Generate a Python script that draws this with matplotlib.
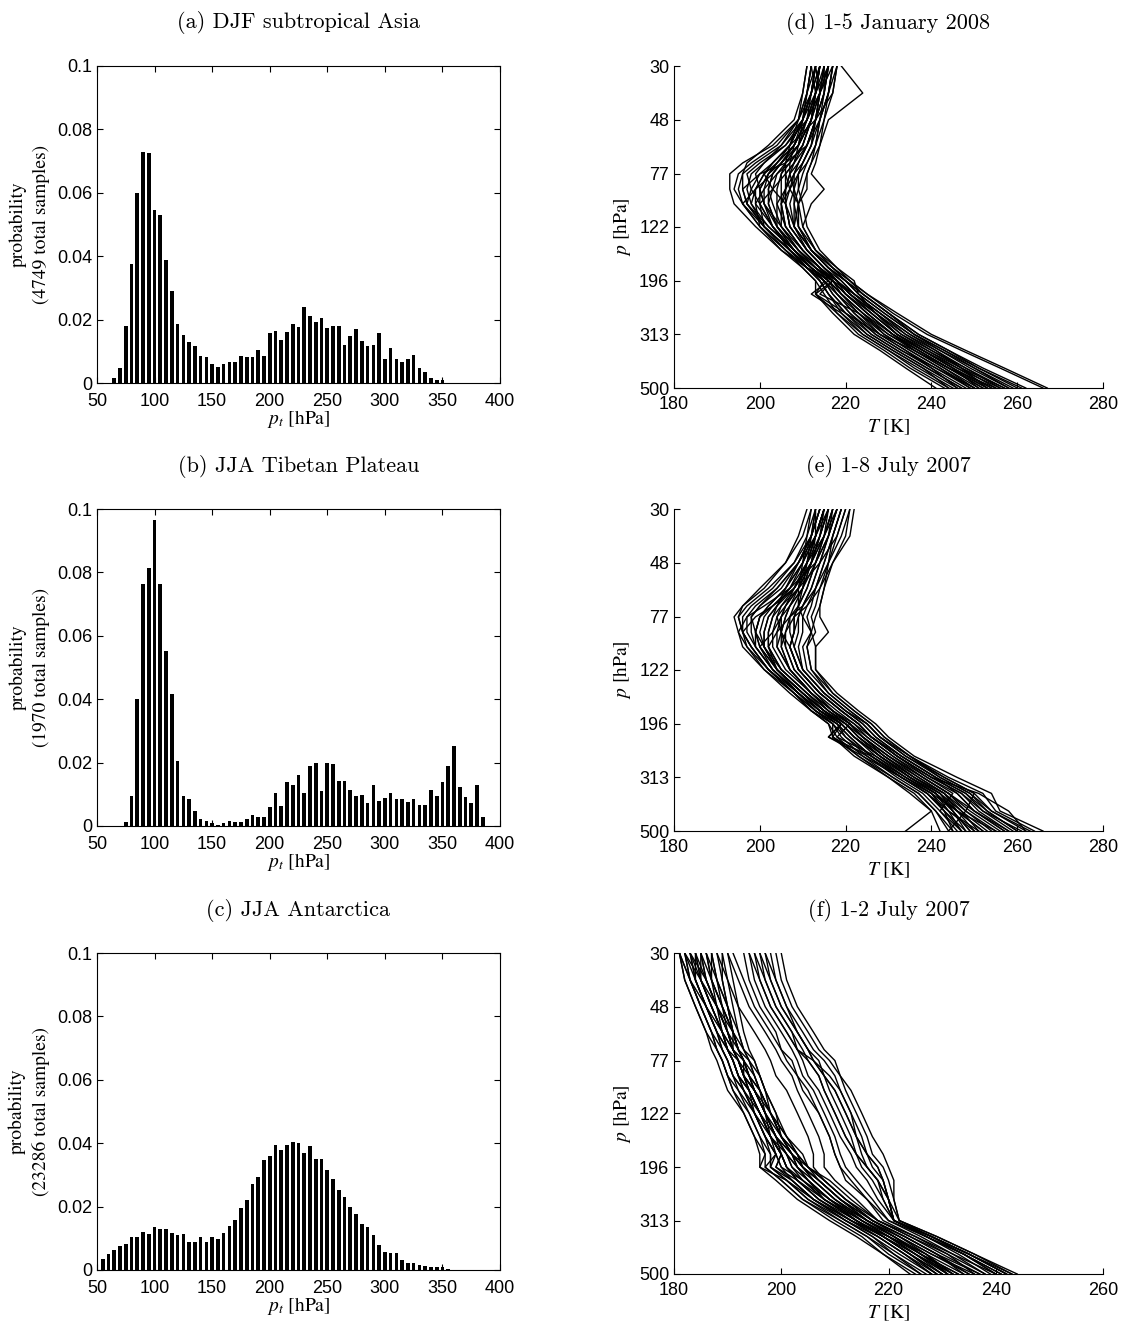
import numpy as np
import matplotlib
matplotlib.use('Agg')
from matplotlib import pyplot as plt
from matplotlib.ticker import NullLocator

plt.rcParams['mathtext.fontset'] = 'stix'
plt.rcParams['font.family'] = ['Liberation Sans', 'DejaVu Sans']

# ---- histogram data (bin centres every 5 hPa) ----
pt_a = list(range(65, 355, 5))
prob_a = [0.0016, 0.0048, 0.018, 0.0376, 0.060, 0.073, 0.0727, 0.0547, 0.053, 0.0387,
          0.029, 0.0187, 0.015, 0.0129, 0.0116, 0.0086, 0.0082, 0.0059, 0.005, 0.0059,
          0.0066, 0.0067, 0.0086, 0.0082, 0.0082, 0.0103, 0.0086, 0.0158, 0.0165, 0.0135,
          0.0162, 0.0185, 0.0177, 0.024, 0.0212, 0.0193, 0.0206, 0.0173, 0.018, 0.018,
          0.012, 0.0148, 0.0171, 0.0132, 0.0116, 0.012, 0.0158, 0.0076, 0.0109, 0.0076,
          0.0066, 0.0076, 0.0089, 0.0048, 0.0036, 0.0015, 0.0008, 0.001]

pt_b = list(range(75, 390, 5))
prob_b = [0.0013, 0.0095, 0.040, 0.0764, 0.0813, 0.0964, 0.0764, 0.0552, 0.0415, 0.0206,
          0.0095, 0.0085, 0.0048, 0.0023, 0.0017, 0.0008, 0.0002, 0.0008, 0.0017, 0.0013,
          0.0013, 0.0022, 0.0034, 0.0027, 0.0027, 0.0059, 0.0105, 0.0064, 0.0139, 0.013,
          0.016, 0.0105, 0.019, 0.020, 0.011, 0.020, 0.0196, 0.0143, 0.0143, 0.0114,
          0.0095, 0.0099, 0.0074, 0.013, 0.0079, 0.0088, 0.0105, 0.0084, 0.0084, 0.0075,
          0.0084, 0.0065, 0.0065, 0.0114, 0.0095, 0.0139, 0.019, 0.0253, 0.0124, 0.009,
          0.0074, 0.013, 0.0027]

pt_c = list(range(55, 360, 5))
prob_c = [0.0034, 0.005, 0.0063, 0.0076, 0.0082, 0.0103, 0.0103, 0.0121, 0.0113, 0.0137,
          0.0129, 0.0128, 0.0116, 0.011, 0.0112, 0.0087, 0.0089, 0.0105, 0.0088, 0.0105,
          0.0098, 0.0116, 0.0139, 0.0158, 0.0197, 0.022, 0.027, 0.0292, 0.0346, 0.036,
          0.0394, 0.0377, 0.0393, 0.0404, 0.0402, 0.037, 0.039, 0.035, 0.0349, 0.0316,
          0.0286, 0.0251, 0.0229, 0.020, 0.0178, 0.0145, 0.0137, 0.011, 0.0078, 0.0058,
          0.0053, 0.0053, 0.0032, 0.0023, 0.0023, 0.0016, 0.0013, 0.0009, 0.0008, 0.0008,
          0.0003]

hist_titles = ['(a) DJF subtropical Asia', '(b) JJA Tibetan Plateau', '(c) JJA Antarctica']
hist_samples = [4749, 1970, 23286]

# ---- temperature profiles, T [K] at these pressure levels [hPa] ----
p_lev = [30, 38, 48, 60, 70, 77, 88, 100, 122, 150, 175, 196, 220, 260, 313, 360, 420, 500]

T_d = [
    [212, 211, 209, 204, 198, 195, 194, 196, 201, 207, 211, 214, 216, 219, 224, 230, 237, 245],
    [213, 212, 210, 206, 201, 198, 197, 198, 202, 208, 212, 215, 217, 221, 226, 232, 239, 247],
    [214, 213, 211, 208, 204, 202, 201, 201, 204, 209, 213, 216, 218, 222, 228, 234, 241, 249],
    [215, 214, 212, 210, 207, 205, 204, 204, 206, 210, 214, 217, 219, 224, 230, 236, 243, 251],
    [216, 215, 213, 211, 209, 208, 207, 206, 207, 211, 215, 218, 221, 226, 232, 238, 245, 253],
    [217, 216, 214, 213, 212, 211, 211, 209, 209, 212, 216, 219, 222, 228, 234, 241, 248, 256],
    [218, 217, 215, 214, 213, 212, 215, 212, 210, 213, 217, 220, 224, 230, 237, 244, 251, 260],
    [213, 212, 210, 205, 199, 196, 195, 196, 200, 206, 210, 213, 213, 217, 222, 228, 234, 241],
    [214, 212, 210, 207, 203, 201, 199, 199, 203, 208, 212, 216, 219, 223, 229, 235, 242, 250],
    [215, 213, 212, 209, 206, 204, 203, 202, 204, 209, 213, 217, 220, 225, 231, 237, 244, 252],
    [216, 214, 213, 211, 208, 207, 206, 205, 206, 210, 214, 218, 221, 227, 233, 240, 247, 255],
    [219, 224, 216, 214, 212, 211, 210, 209, 208, 212, 216, 220, 223, 229, 236, 243, 250, 258],
    [212, 211, 209, 203, 196, 193, 193, 194, 199, 205, 210, 213, 215, 218, 223, 229, 235, 243],
    [213, 212, 210, 207, 203, 200, 198, 197, 201, 207, 212, 216, 212, 219, 225, 231, 238, 246],
    [214, 213, 211, 209, 206, 205, 205, 205, 206, 210, 214, 217, 220, 225, 231, 237, 244, 253],
    [215, 214, 213, 211, 209, 208, 208, 208, 208, 211, 215, 219, 222, 228, 235, 242, 250, 259],
    [217, 216, 214, 213, 211, 210, 209, 210, 211, 214, 218, 221, 225, 231, 239, 247, 256, 266],
    [212, 211, 210, 207, 204, 202, 200, 200, 203, 208, 212, 215, 213, 218, 224, 230, 236, 244],
    [213, 212, 211, 208, 205, 203, 202, 202, 204, 208, 212, 216, 219, 224, 229, 235, 242, 249],
    [214, 213, 212, 210, 208, 206, 206, 206, 207, 211, 215, 218, 222, 227, 233, 239, 246, 254],
    [216, 215, 213, 212, 210, 209, 208, 207, 208, 212, 216, 220, 224, 230, 237, 244, 252, 262],
    [211, 210, 208, 202, 197, 196, 196, 197, 201, 207, 211, 214, 216, 220, 226, 232, 239, 247],
    [215, 214, 212, 209, 205, 203, 202, 203, 205, 209, 213, 217, 220, 226, 232, 238, 245, 251],
    [216, 215, 213, 211, 209, 207, 206, 206, 207, 211, 215, 218, 221, 227, 234, 240, 248, 257],
    [214, 213, 211, 208, 204, 201, 199, 198, 201, 207, 211, 215, 218, 222, 227, 233, 240, 248],
    [217, 216, 214, 212, 210, 209, 209, 208, 209, 212, 216, 220, 223, 229, 236, 243, 251, 261],
    [216, 214, 211, 206, 200, 197, 198, 200, 203, 207, 212, 216, 219, 224, 231, 238, 245, 254],
    [212, 213, 212, 210, 207, 204, 201, 199, 200, 205, 211, 217, 222, 228, 235, 241, 247, 253],
    [218, 217, 213, 207, 203, 201, 203, 206, 208, 212, 217, 221, 224, 230, 236, 242, 249, 258],
    [213, 211, 210, 209, 208, 206, 203, 200, 201, 206, 211, 215, 217, 221, 227, 233, 241, 250],
    [215, 215, 214, 211, 206, 200, 196, 197, 202, 208, 213, 217, 214, 223, 230, 237, 244, 252],
    [214, 212, 209, 207, 206, 206, 207, 209, 210, 213, 217, 221, 225, 232, 240, 248, 257, 267],
    [217, 214, 211, 208, 205, 203, 199, 196, 200, 206, 211, 214, 216, 220, 225, 231, 238, 244],
    [213, 214, 213, 212, 210, 208, 206, 204, 204, 208, 213, 218, 220, 225, 231, 236, 243, 250],
    [216, 213, 210, 208, 207, 207, 208, 209, 209, 213, 218, 222, 223, 227, 232, 238, 246, 256],
    [211, 210, 209, 205, 201, 199, 200, 201, 203, 207, 211, 215, 218, 223, 228, 234, 240, 246],
    [218, 216, 215, 213, 211, 209, 207, 205, 205, 209, 214, 218, 221, 226, 232, 239, 247, 257],
    [214, 213, 212, 209, 205, 202, 200, 201, 205, 210, 214, 217, 213, 220, 228, 236, 244, 255],
]

T_e = [
    [213, 211, 208, 202, 197, 195, 196, 198, 202, 208, 212, 217, 219, 224, 231, 237, 241, 245],
    [214, 212, 209, 204, 199, 197, 197, 199, 203, 209, 213, 218, 221, 226, 233, 239, 243, 248],
    [215, 213, 210, 206, 202, 200, 199, 200, 204, 210, 214, 219, 222, 227, 234, 240, 244, 250],
    [216, 214, 211, 208, 205, 203, 202, 202, 205, 211, 216, 220, 223, 229, 236, 242, 247, 253],
    [217, 215, 212, 210, 207, 206, 205, 204, 207, 212, 217, 221, 224, 230, 238, 244, 249, 256],
    [218, 216, 213, 211, 209, 208, 208, 207, 209, 214, 219, 223, 226, 232, 240, 247, 252, 259],
    [219, 217, 215, 213, 212, 211, 212, 210, 211, 216, 221, 225, 228, 234, 242, 249, 254, 262],
    [221, 219, 216, 215, 214, 214, 216, 213, 213, 218, 223, 227, 230, 236, 246, 254, 256, 266],
    [212, 210, 206, 200, 196, 194, 195, 197, 201, 207, 212, 216, 217, 222, 230, 236, 240, 242],
    [213, 212, 209, 205, 200, 198, 198, 199, 203, 209, 213, 217, 220, 225, 232, 238, 242, 246],
    [215, 213, 210, 207, 203, 201, 200, 201, 204, 210, 215, 219, 216, 224, 233, 239, 244, 251],
    [216, 214, 212, 209, 206, 204, 203, 203, 206, 212, 216, 221, 224, 230, 237, 243, 248, 254],
    [217, 215, 213, 210, 208, 207, 206, 206, 208, 213, 218, 222, 225, 231, 239, 246, 250, 257],
    [218, 216, 214, 212, 210, 209, 209, 208, 210, 215, 220, 224, 227, 233, 241, 248, 253, 260],
    [222, 221, 217, 215, 214, 213, 212, 211, 212, 217, 222, 226, 229, 235, 244, 252, 255, 264],
    [214, 212, 208, 203, 198, 196, 196, 198, 202, 208, 213, 217, 217, 223, 231, 237, 241, 244],
    [215, 213, 211, 207, 204, 202, 201, 201, 205, 211, 215, 219, 222, 228, 235, 241, 245, 249],
    [216, 214, 212, 209, 206, 205, 204, 204, 207, 212, 217, 221, 224, 229, 237, 243, 246, 252],
    [217, 215, 213, 211, 209, 208, 208, 207, 209, 214, 219, 223, 226, 232, 240, 247, 251, 258],
    [219, 217, 215, 213, 211, 210, 210, 209, 210, 215, 220, 224, 227, 233, 241, 248, 252, 261],
    [220, 218, 216, 214, 213, 212, 213, 211, 212, 216, 221, 225, 228, 235, 243, 250, 254, 263],
    [211, 209, 206, 201, 196, 195, 196, 198, 202, 208, 212, 216, 218, 223, 230, 235, 240, 234],
    [215, 213, 211, 208, 204, 202, 201, 201, 204, 210, 215, 220, 223, 228, 235, 241, 246, 250],
    [216, 215, 212, 210, 207, 206, 205, 205, 207, 212, 217, 221, 225, 231, 238, 244, 248, 255],
    [218, 216, 214, 212, 210, 209, 208, 207, 209, 214, 219, 223, 226, 232, 240, 251, 258, 262],
    [214, 212, 210, 206, 202, 200, 199, 199, 203, 209, 214, 218, 221, 226, 233, 239, 243, 247],
    [216, 213, 209, 204, 200, 198, 199, 201, 204, 209, 214, 219, 222, 228, 235, 241, 245, 249],
    [213, 213, 212, 208, 203, 199, 196, 197, 202, 209, 214, 219, 217, 225, 233, 240, 246, 252],
    [220, 218, 214, 209, 205, 204, 205, 207, 209, 214, 219, 223, 226, 232, 239, 245, 242, 247],
    [214, 212, 211, 210, 209, 207, 204, 202, 204, 210, 215, 220, 224, 230, 238, 244, 250, 257],
    [217, 216, 213, 207, 201, 197, 195, 196, 201, 208, 213, 218, 220, 226, 234, 240, 243, 245],
    [215, 213, 211, 209, 209, 210, 212, 213, 213, 217, 222, 226, 229, 235, 242, 249, 253, 260],
    [218, 215, 211, 208, 206, 205, 203, 200, 203, 209, 214, 219, 222, 228, 236, 243, 247, 251],
    [212, 211, 210, 209, 207, 205, 205, 206, 208, 213, 217, 221, 218, 227, 235, 242, 246, 255],
    [219, 217, 216, 213, 210, 207, 207, 208, 210, 215, 220, 225, 228, 234, 243, 250, 248, 244],
    [213, 212, 209, 206, 204, 203, 202, 202, 205, 211, 216, 220, 223, 229, 236, 242, 245, 248],
    [221, 220, 217, 214, 211, 208, 206, 205, 207, 212, 217, 222, 226, 233, 241, 246, 250, 258],
    [215, 214, 212, 208, 203, 200, 199, 200, 204, 210, 215, 219, 216, 226, 234, 241, 244, 247],
]

T_f = [
    [181, 182, 184, 186, 187, 188, 189, 190, 193, 195, 197, 197, 200, 204, 210, 215, 219, 225],
    [182, 183, 185, 187, 188, 189, 190, 191, 194, 196, 198, 198, 201, 205, 211, 216, 220, 226],
    [183, 184, 186, 188, 189, 190, 191, 193, 195, 197, 199, 200, 202, 206, 212, 217, 221, 227],
    [184, 185, 187, 189, 190, 191, 192, 194, 196, 198, 200, 201, 203, 207, 213, 218, 223, 228],
    [185, 186, 188, 190, 191, 192, 193, 195, 197, 199, 201, 202, 204, 208, 214, 219, 224, 229],
    [186, 187, 189, 191, 192, 193, 194, 195, 197, 200, 202, 203, 205, 209, 215, 220, 225, 230],
    [187, 188, 190, 191, 192, 193, 195, 196, 198, 200, 203, 204, 207, 211, 216, 221, 226, 231],
    [181, 183, 185, 187, 188, 189, 190, 192, 194, 196, 197, 196, 201, 205, 212, 217, 222, 228],
    [182, 184, 186, 188, 189, 190, 191, 192, 195, 197, 198, 198, 202, 206, 213, 218, 223, 229],
    [183, 185, 187, 189, 190, 191, 192, 194, 196, 198, 200, 199, 203, 207, 214, 219, 224, 230],
    [184, 186, 188, 190, 191, 192, 193, 195, 197, 199, 201, 202, 205, 209, 215, 220, 225, 231],
    [185, 187, 189, 191, 192, 193, 194, 196, 198, 200, 202, 204, 206, 210, 216, 221, 227, 232],
    [188, 189, 190, 192, 193, 194, 195, 196, 198, 201, 203, 205, 208, 212, 217, 223, 229, 234],
    [190, 191, 192, 193, 194, 195, 196, 197, 199, 201, 204, 205, 209, 213, 218, 224, 231, 236],
    [181, 182, 184, 186, 188, 189, 190, 191, 193, 195, 196, 196, 199, 203, 209, 214, 219, 224],
    [182, 183, 185, 187, 189, 190, 191, 193, 195, 197, 199, 197, 200, 204, 211, 216, 221, 226],
    [184, 185, 187, 189, 190, 191, 192, 194, 196, 198, 200, 201, 204, 208, 214, 219, 224, 229],
    [186, 187, 189, 190, 191, 192, 193, 195, 197, 199, 201, 203, 206, 210, 216, 221, 226, 232],
    [183, 184, 186, 188, 190, 191, 192, 193, 195, 198, 200, 201, 203, 208, 215, 221, 226, 233],
    [185, 186, 188, 190, 191, 192, 193, 194, 196, 198, 201, 203, 205, 209, 216, 222, 228, 235],
    [187, 188, 189, 191, 192, 193, 194, 195, 197, 199, 202, 204, 207, 211, 217, 223, 229, 237],
    [189, 190, 191, 192, 193, 194, 195, 196, 198, 200, 203, 205, 208, 212, 218, 225, 232, 240],
    [182, 185, 188, 191, 192, 193, 193, 194, 196, 198, 200, 201, 203, 207, 213, 219, 224, 230],
    [184, 184, 186, 188, 190, 192, 194, 196, 197, 199, 200, 199, 202, 206, 212, 218, 223, 228],
    [186, 188, 190, 191, 191, 192, 193, 195, 198, 201, 203, 204, 206, 210, 215, 220, 225, 231],
    [181, 183, 186, 189, 191, 192, 193, 194, 195, 197, 199, 200, 204, 209, 214, 219, 225, 232],
    [187, 187, 188, 190, 192, 194, 196, 197, 199, 200, 202, 203, 205, 208, 214, 220, 226, 233],
    [183, 186, 188, 189, 190, 191, 192, 193, 196, 199, 202, 205, 207, 211, 217, 222, 227, 231],
    [185, 185, 187, 189, 191, 193, 194, 195, 197, 198, 199, 198, 201, 206, 213, 220, 227, 234],
    [189, 189, 190, 191, 193, 195, 196, 197, 198, 200, 202, 204, 207, 211, 216, 222, 228, 236],
    # in-between profiles
    [188, 190, 192, 195, 197, 198, 199, 201, 203, 205, 206, 206, 208, 212, 217, 223, 229, 235],
    [190, 192, 194, 197, 199, 200, 202, 203, 205, 207, 208, 208, 210, 214, 218, 224, 230, 237],
    [191, 193, 195, 198, 200, 202, 203, 205, 207, 209, 210, 211, 213, 216, 219, 225, 231, 238],
    # warm group
    [193, 194, 196, 199, 200, 201, 203, 204, 207, 209, 210, 211, 212, 216, 220, 226, 232, 238],
    [194, 195, 197, 200, 202, 203, 204, 206, 208, 210, 211, 212, 214, 217, 220, 227, 233, 239],
    [195, 196, 198, 201, 203, 204, 205, 207, 209, 211, 213, 214, 216, 218, 221, 227, 234, 240],
    [196, 197, 199, 202, 204, 205, 207, 208, 210, 212, 214, 215, 217, 219, 221, 228, 234, 241],
    [197, 198, 200, 203, 205, 207, 208, 210, 212, 214, 215, 216, 218, 220, 221, 228, 235, 242],
    [198, 199, 201, 204, 206, 208, 210, 211, 213, 215, 216, 218, 219, 220, 222, 228, 235, 242],
    [199, 200, 202, 205, 207, 209, 211, 212, 214, 216, 217, 219, 220, 221, 222, 229, 236, 243],
    [200, 201, 203, 206, 208, 210, 211, 213, 215, 217, 219, 220, 221, 221, 222, 229, 236, 244],
    [194, 196, 198, 201, 203, 205, 207, 208, 210, 212, 214, 216, 218, 220, 221, 227, 234, 241],
    [196, 198, 200, 203, 205, 206, 208, 210, 212, 214, 216, 218, 219, 220, 221, 228, 235, 243],
    [197, 199, 201, 203, 205, 206, 209, 211, 213, 214, 216, 217, 219, 220, 221, 228, 235, 242],
    [195, 197, 199, 202, 203, 206, 208, 209, 211, 213, 214, 216, 218, 219, 221, 227, 234, 240],
]

prof_titles = ['(d) 1-5 January 2008', '(e) 1-8 July 2007', '(f) 1-2 July 2007']
prof_xmax = [280, 280, 260]
p_ticks = [30, 48, 77, 122, 196, 313, 500]

W, H = 1134, 1323
fig = plt.figure(figsize=(W / 100, H / 100), dpi=100)

left_rows = [(66, 383), (509, 826), (953, 1270)]
right_rows = [(66, 388), (509, 831), (953, 1274)]


def px_rect(x0, x1, y0, y1):
    return [x0 / W, 1 - y1 / H, (x1 - x0) / W, (y1 - y0) / H]


title_font = dict(family='cmr10', fontsize=16)
serif_font = dict(family='STIXGeneral', fontsize=14)

hists = [(pt_a, prob_a), (pt_b, prob_b), (pt_c, prob_c)]
for i, (pt, prob) in enumerate(hists):
    ax = fig.add_axes(px_rect(97, 500, *left_rows[i]))
    ax.bar(pt, prob, width=3.2, color='black', edgecolor='none')
    ax.set_xlim(50, 400)
    ax.set_ylim(0, 0.1)
    ax.set_xticks(range(50, 401, 50))
    ax.set_yticks([0, 0.02, 0.04, 0.06, 0.08, 0.1])
    ax.set_yticklabels(['0', '0.02', '0.04', '0.06', '0.08', '0.1'])
    ax.tick_params(direction='in', top=True, right=True, length=4, width=0.8,
                   labelsize=13)
    ax.tick_params(axis='x', pad=7)
    for s in ax.spines.values():
        s.set_linewidth(0.8)
    ax.set_ylabel('probability\n(%d total samples)' % hist_samples[i], labelpad=5,
                  linespacing=1.45, **serif_font)
    ax.set_xlabel(r'$p_t$ [hPa]', labelpad=-1, **serif_font)
    ax.set_title(hist_titles[i], pad=27, **title_font)

profiles = [T_d, T_e, T_f]
for i, T in enumerate(profiles):
    ax = fig.add_axes(px_rect(674, 1103, *right_rows[i]))
    for prof in T:
        ax.plot(prof, p_lev, color='black', lw=1.0)
    ax.set_yscale('log')
    ax.set_ylim(500, 30)
    ax.set_xlim(180, prof_xmax[i])
    ax.set_yticks(p_ticks)
    ax.set_yticklabels([str(v) for v in p_ticks])
    ax.yaxis.set_minor_locator(NullLocator())
    ax.set_xticks(range(180, prof_xmax[i] + 1, 20))
    ax.spines['top'].set_visible(False)
    ax.spines['right'].set_visible(False)
    for s in ax.spines.values():
        s.set_linewidth(0.8)
    ax.tick_params(direction='in', length=4, width=0.8, labelsize=13)
    ax.tick_params(axis='x', pad=6)
    ax.set_ylabel(r'$p$ [hPa]', labelpad=4, **serif_font)
    ax.set_xlabel(r'$T$ [K]', labelpad=3, **serif_font)
    ax.set_title(prof_titles[i], pad=27, **title_font)

fig.savefig('out.png', dpi=100)
